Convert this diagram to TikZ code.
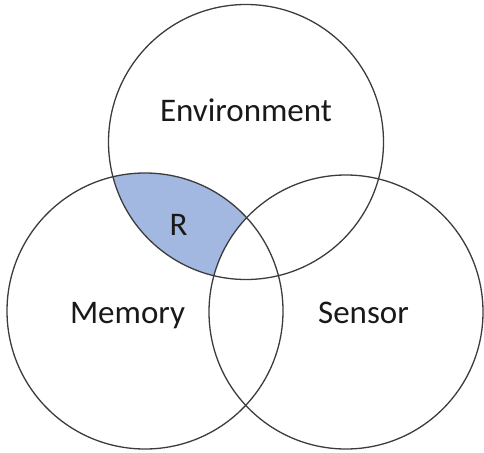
\documentclass[tikz,border=0pt]{standalone}
\usepackage{fontspec}
\setmainfont{Carlito}
\definecolor{regionblue}{RGB}{162,184,225}
\definecolor{ringgray}{RGB}{60,60,60}
\begin{document}
\begin{tikzpicture}[x=1pt,y=-1pt,
  ring/.style={draw=ringgray,line width=1.3pt},
  setlabel/.style={font=\fontsize{33}{40}\selectfont,text=black!90,anchor=base}]
  \useasboundingbox (0,0) rectangle (484,452);
  \coordinate (env) at (246,142);
  \coordinate (mem) at (145,311);
  \coordinate (sen) at (346,312);
  % region R: inside Environment and Memory, outside Sensor
  \begin{scope}
    \clip (env) circle[radius=137.5];
    \clip (mem) circle[radius=138];
    \fill[regionblue] (0,0) rectangle (484,452);
    \fill[white] (sen) circle[radius=137];
  \end{scope}
  \draw[ring] (env) circle[radius=137.5];
  \draw[ring] (mem) circle[radius=138];
  \draw[ring] (sen) circle[radius=137];
  \node[setlabel] (envlabel) at (246,121) {Environment};
  \node[setlabel] (memlabel) at (127.5,323) {Memory};
  \node[setlabel] (senlabel) at (363.5,323) {Sensor};
  \node[setlabel] (rlabel) at (178.5,235) {R};
\end{tikzpicture}
\end{document}
